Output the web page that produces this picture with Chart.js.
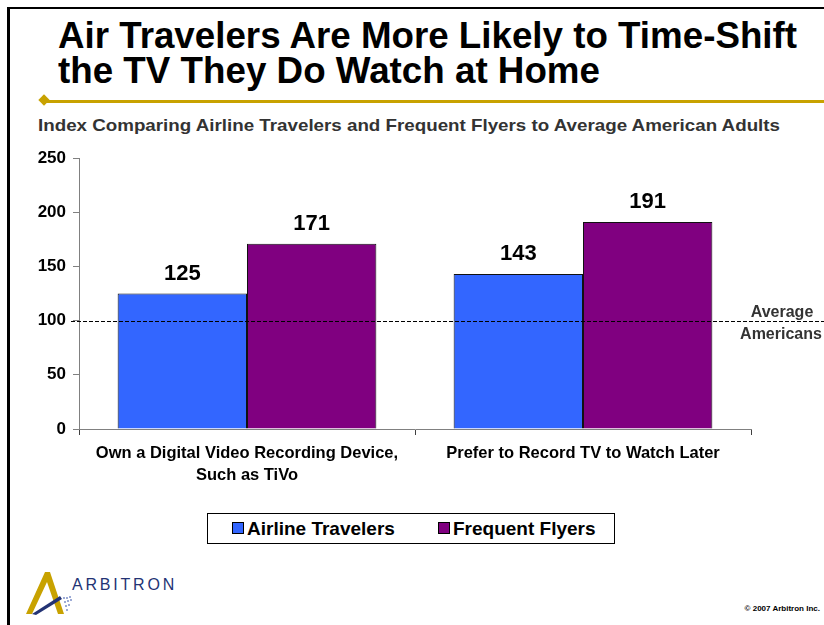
<!DOCTYPE html>
<html>
<head>
<meta charset="utf-8">
<script src="https://cdn.jsdelivr.net/npm/chart.js@4"></script>
<style>
    html, body { margin: 0; padding: 0; background: #fff; }
    body { width: 824px; height: 625px; position: relative; overflow: hidden; font-family: "Liberation Sans", Arial, sans-serif; }
    .abs { position: absolute; white-space: nowrap; }
    .fit { transform-origin: 0 0; }
    #title { left: 58px; top: 18px; font-size: 37px; font-weight: bold; line-height: 35px; color: #000; }
    #subtitle { left: 38px; top: 116px; font-size: 17px; font-weight: bold; color: #333; }
    #chartWrap { position: absolute; left: 0; top: 140px; width: 824px; height: 370px; }
    #legend { left: 207px; top: 513px; width: 406px; height: 29px; border: 1px solid #000; }
    .item { position: absolute; top: 4px; font-size: 19px; font-weight: bold; line-height: 22px; }
    .swatch { display: inline-block; width: 10px; height: 10px; border: 1px solid #000; margin-right: 3px; vertical-align: 1px; }
    #brand { left: 72px; top: 576px; font-size: 16px; letter-spacing: 2.8px; color: #233374; }
    #copy { right: 4px; top: 604px; font-size: 8px; font-weight: bold; color: #000; }
</style>
</head>
<body>
<div class="abs" style="left:7px;top:7px;width:3px;height:618px;background:#000"></div>
<div class="abs" style="left:7px;top:7px;width:817px;height:2px;background:#000"></div>

<div id="title" class="abs">
    <div class="fit" data-w="739">Air Travelers Are More Likely to Time-Shift</div>
    <div class="fit" data-w="542">the TV They Do Watch at Home</div>
</div>

<div class="abs" style="left:45px;top:100px;width:779px;height:3px;background:#c8a200"></div>
<div class="abs" style="left:40px;top:96px;width:8px;height:8px;background:#c8a200;transform:rotate(45deg)"></div>

<div id="subtitle" class="abs fit" data-w="742">Index Comparing Airline Travelers and Frequent Flyers to Average American Adults</div>

<div id="chartWrap"><canvas id="indexChart" width="824" height="370"></canvas></div>

<div id="legend" class="abs"></div>

<svg class="abs" style="left:20px;top:568px" width="60" height="52" viewBox="0 0 60 52">
    <polygon points="25,4 30,4 44,46 38,46 27,14 12,46 6,46" fill="#c8a200"/>
    <polygon points="12,46 40,28 42,31 16,47" fill="#233374"/>
    <g fill="#7d8fc9">
        <circle cx="44" cy="30" r="1"/><circle cx="47" cy="30" r="1"/><circle cx="50" cy="29" r="1"/>
        <circle cx="45" cy="34" r="1"/><circle cx="48" cy="33" r="1"/><circle cx="51" cy="32" r="1"/>
        <circle cx="46" cy="38" r="1"/><circle cx="49" cy="37" r="1"/>
        <circle cx="47" cy="42" r="1"/>
    </g>
</svg>
<div id="brand" class="abs">ARBITRON</div>
<div id="copy" class="abs">© 2007 Arbitron Inc.</div>

<script>
    const categories = [['Own a Digital Video Recording Device,', 'Such as TiVo'], 'Prefer to Record TV to Watch Later'];
    const seriesNames = ['Airline Travelers', 'Frequent Flyers'];
    const airlineTravelers = [125, 143];
    const frequentFlyers = [171, 191];
    const seriesColors = ['#3366ff', '#800080'];
    const averageIndex = 100;
    const averageLabel = ['Average', 'Americans'];

    // squeeze the headline texts to their set widths
    document.querySelectorAll('.fit').forEach(function (el) {
        el.style.display = 'inline-block';
        let w = el.getBoundingClientRect().width;
        el.style.transform = 'scaleX(' + (el.dataset.w / w) + ')';
        el.style.display = 'block';
    });

    // legend
    let legend = document.getElementById('legend');
    [24, 230].forEach(function (left, i) {
        let item = document.createElement('div');
        item.className = 'item';
        item.style.left = left + 'px';
        item.innerHTML = '<span class="swatch" style="background:' + seriesColors[i] + '"></span>' + seriesNames[i];
        legend.appendChild(item);
    });

    const font = "'Liberation Sans', Arial, sans-serif";

    // value numbers over each bar
    const barValues = {
        id: 'barValues',
        afterDatasetsDraw(chart) {
            let c = chart.ctx;
            c.save();
            c.font = 'bold 22px ' + font;
            c.fillStyle = '#000';
            c.textAlign = 'center';
            c.textBaseline = 'alphabetic';
            chart.data.datasets.forEach(function (ds, i) {
                chart.getDatasetMeta(i).data.forEach(function (bar, j) {
                    c.fillText(ds.data[j], bar.x, bar.y - 14);
                });
            });
            c.restore();
        }
    };

    // dashed reference line for the average adult
    const averageLine = {
        id: 'averageLine',
        afterDraw(chart) {
            let c = chart.ctx;
            let y = Math.round(chart.scales.y.getPixelForValue(averageIndex)) + 0.5;
            c.save();
            c.strokeStyle = '#000';
            c.lineWidth = 1;
            c.setLineDash([4, 2]);
            c.beginPath();
            c.moveTo(71, y);
            c.lineTo(chart.width, y);
            c.stroke();
            c.setLineDash([]);
            c.font = 'bold 16px ' + font;
            c.fillStyle = '#333';
            c.textAlign = 'center';
            c.textBaseline = 'middle';
            c.fillText(averageLabel[0], 782, y - 9);
            c.fillText(averageLabel[1], 781, y + 13);
            c.restore();
        }
    };

    new Chart(document.getElementById('indexChart'), {
        type: 'bar',
        data: {
            labels: categories,
            datasets: [{
                label: seriesNames[0],
                data: airlineTravelers,
                backgroundColor: seriesColors[0],
                borderColor: '#111',
                borderWidth: 1,
            }, {
                label: seriesNames[1],
                data: frequentFlyers,
                backgroundColor: seriesColors[1],
                borderColor: '#111',
                borderWidth: 1,
            }]
        },
        options: {
            responsive: false,
            animation: false,
            categoryPercentage: 0.77,
            barPercentage: 1,
            layout: {
                padding: { left: 0, right: 73, top: 18, bottom: 0 }
            },
            scales: {
                y: {
                    min: 0,
                    max: 250,
                    ticks: {
                        stepSize: 50,
                        padding: 7,
                        color: '#000',
                        font: { family: font, size: 17, weight: 'bold' }
                    },
                    grid: { drawOnChartArea: false, tickLength: 6, color: '#808080' },
                    border: { color: '#808080' },
                    afterFit: function (scale) {
                        scale.width = 79;
                    }
                },
                x: {
                    ticks: {
                        padding: 8,
                        color: '#000',
                        font: { family: font, size: 16.5, weight: 'bold', lineHeight: 1.3 }
                    },
                    grid: { offset: true, drawOnChartArea: false, tickLength: 6, color: '#404040' },
                    border: { color: '#808080' },
                    afterFit: function (scale) {
                        scale.height = 81;
                    }
                }
            },
            plugins: {
                legend: { display: false },
                tooltip: { enabled: false }
            }
        },
        plugins: [barValues, averageLine]
    });
</script>
</body>
</html>
